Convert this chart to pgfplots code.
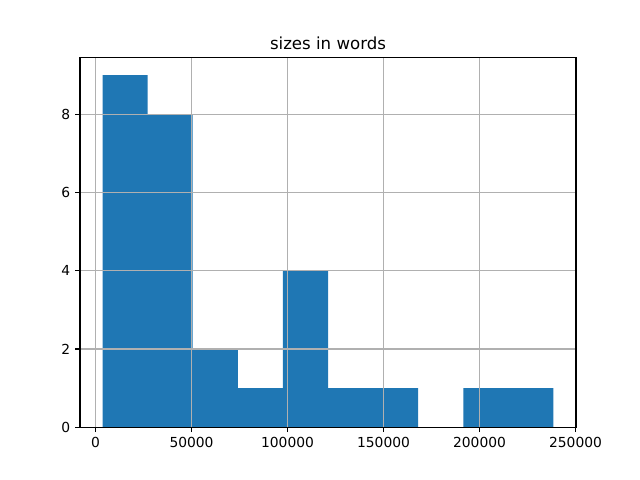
\documentclass[border=0pt]{standalone}
\usepackage{fontspec}
\setmainfont{DejaVu Sans}
\usepackage{pgfplots}
\pgfplotsset{compat=1.18}
\definecolor{mplblue}{HTML}{1F77B4}
\definecolor{mplgrid}{HTML}{B0B0B0}
\begin{document}
\begin{tikzpicture}
\begin{axis}[
  at={(0,0)}, anchor=south west,
  width=4.96in, height=3.696in, scale only axis,
  xmin=-8090, xmax=250240, ymin=0, ymax=9.45,
  xtick={0,50000,100000,150000,200000,250000},
  ytick={0,2,4,6,8},
  scaled x ticks=false,
  /pgf/number format/.cd, fixed, set thousands separator={}, assume math mode=true,
  /pgfplots/.cd,
  tick label style={font=\fontsize{10}{12}\selectfont},
  tick align=outside, major tick length=3.5pt,
  tick style={black, line width=0.8pt},
  xtick pos=bottom, ytick pos=left,
  axis line style={black, line width=0.8pt},
  grid=major, major grid style={mplgrid, line width=0.8pt},
  axis on top,
  title={sizes in words},
  title style={font=\fontsize{12}{14}\selectfont, yshift=-3.5pt},
]
\addplot[ybar interval, fill=mplblue, draw=none] coordinates {
(3650,9) (27135,8) (50620,2) (74105,1) (97590,4) (121075,1) (144560,1) (168045,0) (191530,1) (215015,1) (238500,1)
};
\end{axis}
\path[use as bounding box] (-0.8in,-0.528in) rectangle (5.6in,4.272in);
\end{tikzpicture}
\end{document}
